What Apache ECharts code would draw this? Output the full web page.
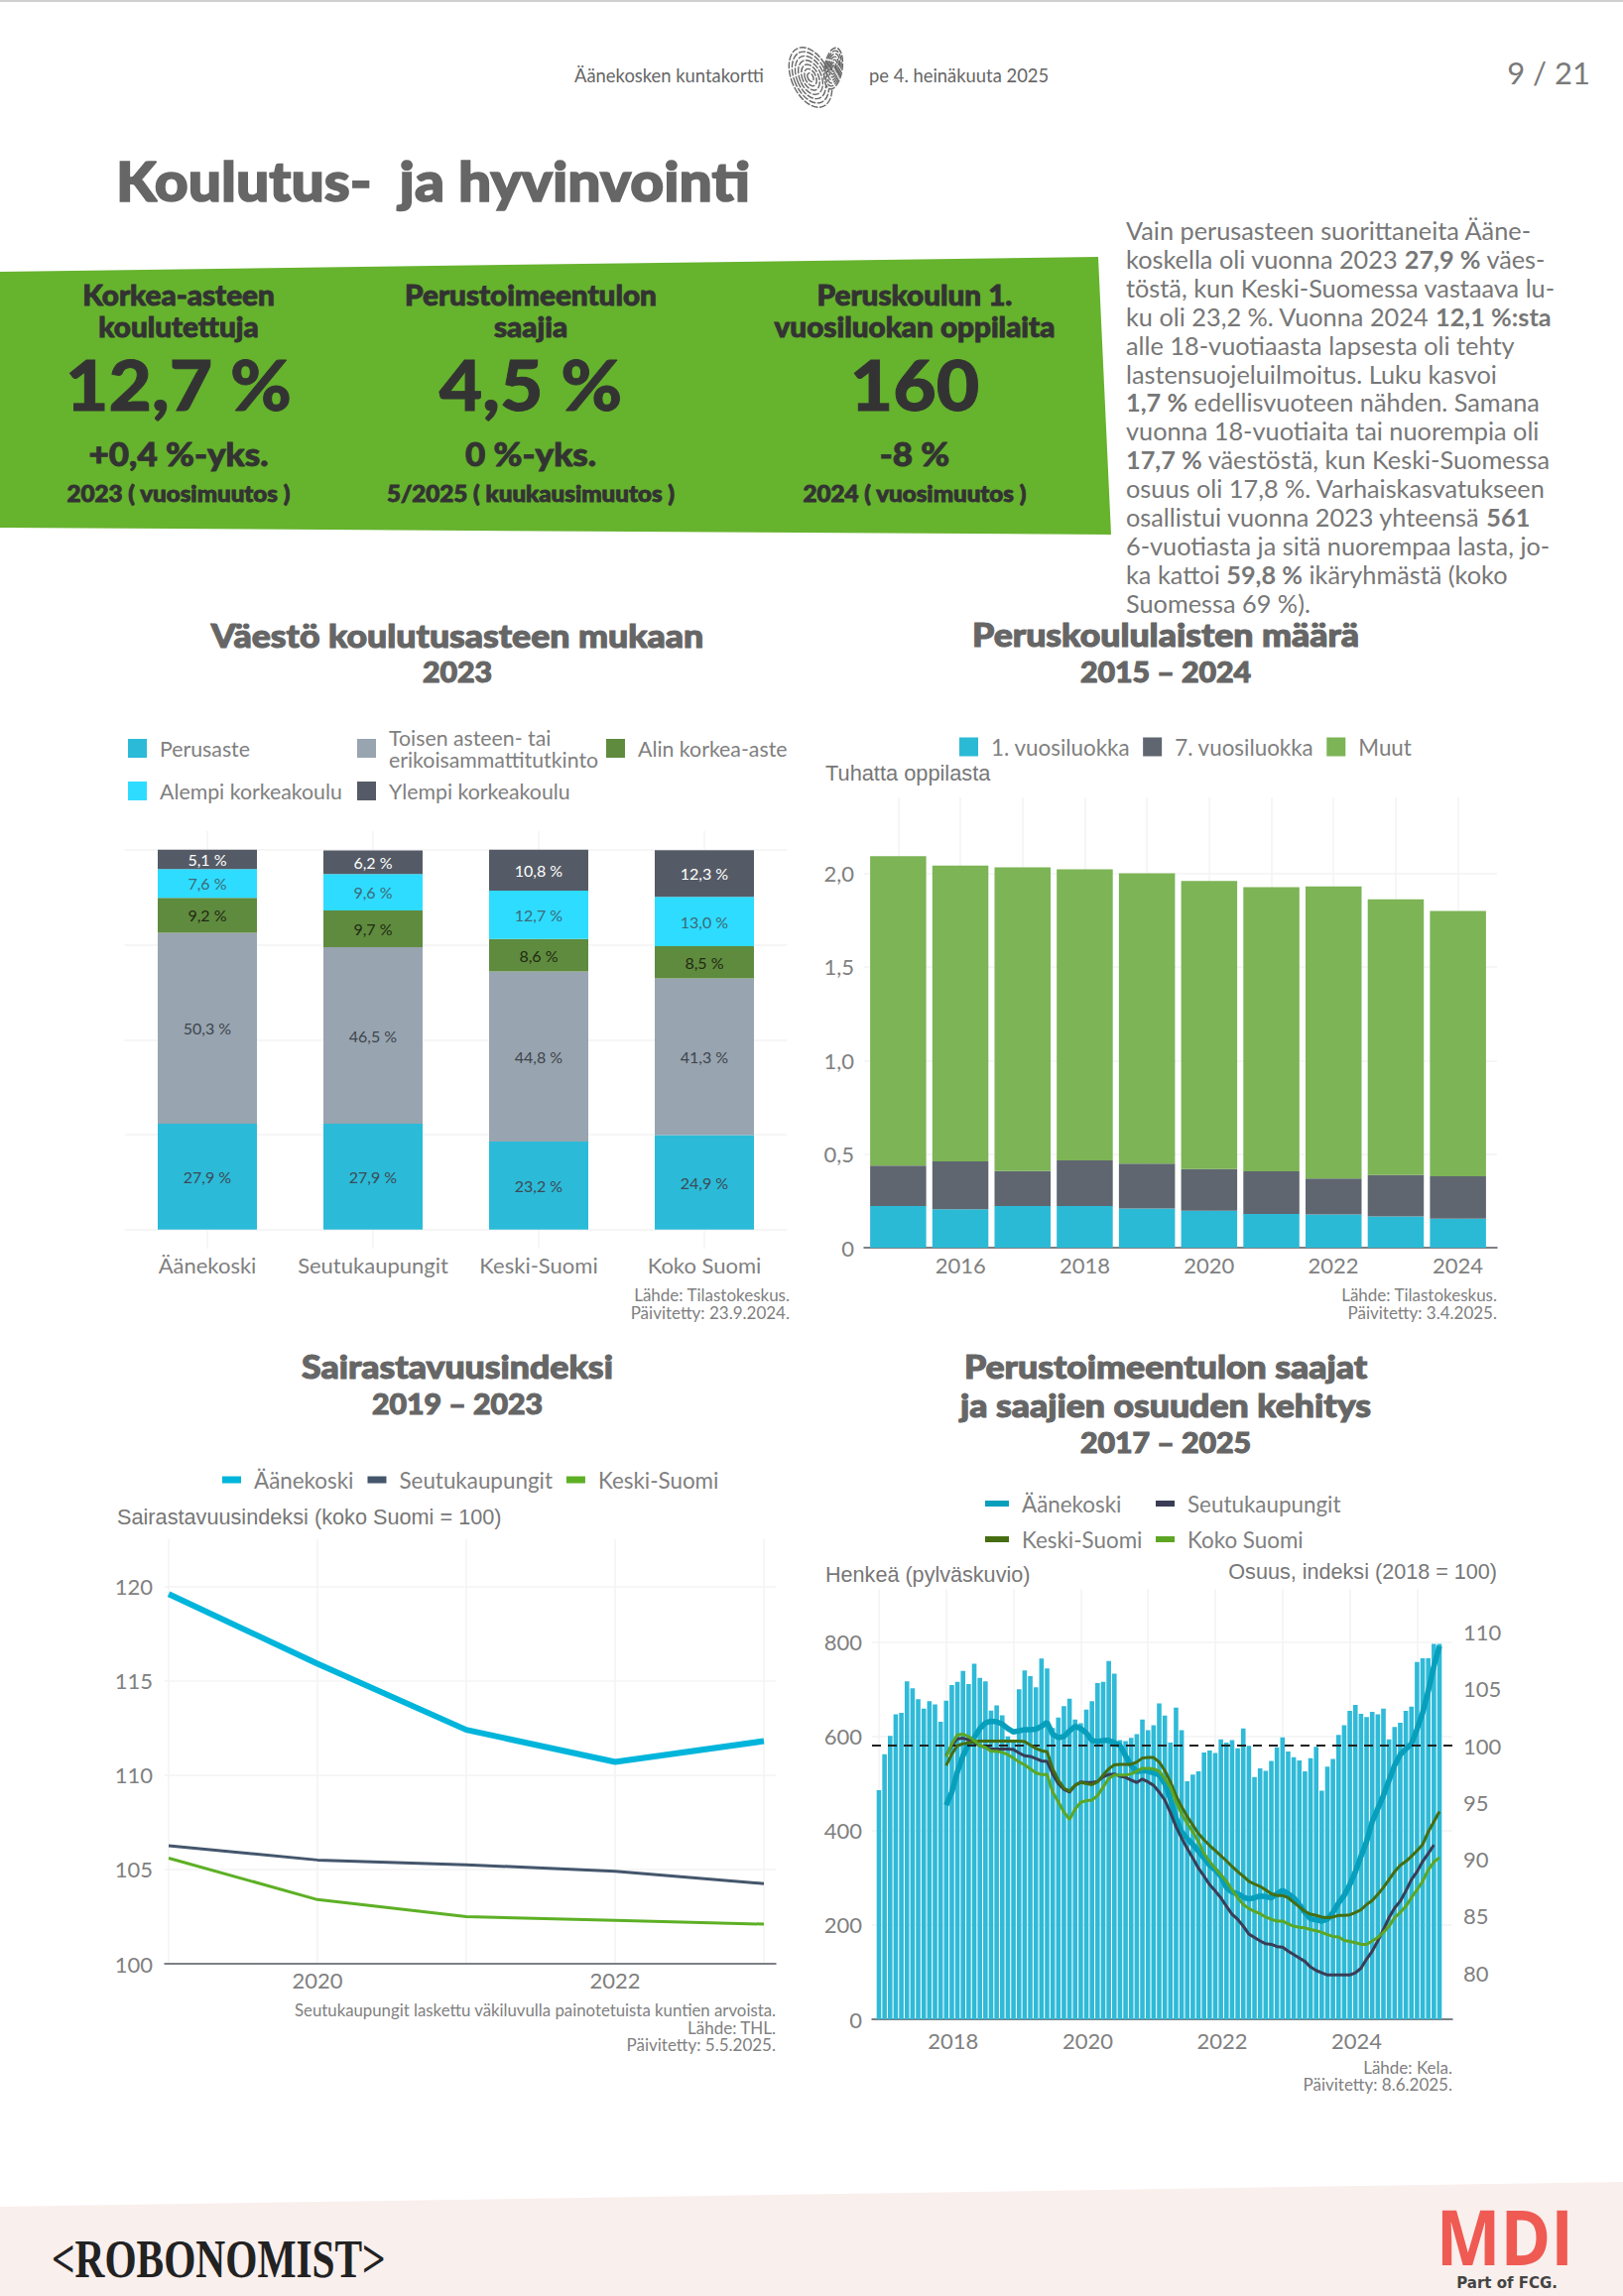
<!DOCTYPE html>
<html lang="fi"><head><meta charset="utf-8"><title>Koulutus- ja hyvinvointi</title>
<script src="https://cdn.jsdelivr.net/npm/echarts@6/dist/echarts.min.js"></script>
<style>html,body{margin:0;padding:0;background:#fff}#c{width:1636px;height:2315px}</style>
</head><body><div id="c"></div>
<script>
// ---- Chart 1: education
const eduCategories = ['Äänekoski','Seutukaupungit','Keski-Suomi','Koko Suomi'];
const eduPerusaste = [27.9,27.9,23.2,24.9];
const eduToinen = [50.3,46.5,44.8,41.3];
const eduAlin = [9.2,9.7,8.6,8.5];
const eduAlempi = [7.6,9.6,12.7,13.0];
const eduYlempi = [5.1,6.2,10.8,12.3];
// ---- Chart 2: pupils
const pupilYears = ['2015','2016','2017','2018','2019','2020','2021','2022','2023','2024'];
const pupilGrade1 = [0.223,0.206,0.223,0.223,0.209,0.197,0.180,0.177,0.167,0.155];
const pupilGrade7 = [0.216,0.255,0.187,0.243,0.240,0.223,0.228,0.192,0.221,0.226];
const pupilOther = [1.653,1.580,1.622,1.556,1.551,1.539,1.519,1.561,1.474,1.418];
// ---- Chart 3: morbidity
const morbYears = [2019,2020,2021,2022,2023];
const morbAanekoski = [119.6,115.9,112.4,110.7,111.8];
const morbSeutu = [106.25,105.5,105.25,104.9,104.25];
const morbKeski = [105.6,103.4,102.5,102.3,102.1];
// ---- Chart 4: income support, monthly from Jan 2017 (bars), Jan 2018 (index lines)
const benefitBars = [486,562,601,647,650,717,702,679,659,675,668,631,
676,709,716,739,711,754,724,717,655,666,645,600,
593,700,740,728,704,765,744,618,640,664,680,636,
628,657,675,713,716,760,733,592,590,597,605,636,
613,624,670,644,587,661,613,505,519,526,566,570,
565,594,587,592,575,617,580,514,532,527,548,577,
598,568,556,549,526,554,578,485,536,552,603,624,
654,667,648,641,652,647,659,594,620,629,654,663,
758,766,766,796,796];
const shareAanekoski = [94.75,95.9,97.7,99.1,100.1,100.7,101.5,102,102.15,102.1,101.9,101.5,
101.2,101.3,101.4,101.4,101.45,101.7,102.05,101,100.7,100.8,101.3,101.7,
101.5,101.1,100.45,100.35,100.45,100.45,100.25,100,99.1,98.25,97.7,97.8,
97.75,97.6,97.4,96.65,95.3,93.6,92.4,91.8,91.3,90.7,90.1,89.45,
89.05,88.5,87.5,87.1,86.95,86.65,86.5,86.6,86.75,86.7,86.6,86.95,
87.25,86.95,86.6,86,85.3,84.75,84.65,84.55,84.7,85.3,86.15,86.8,
87.75,88.9,90.25,91.55,93.3,94.45,95.6,96.95,98.25,99.2,99.7,100.15,
101.45,102.9,104.8,107,108.75];
const shareSeutu = [99.1,100,100.6,100.65,100.5,100.25,100,99.85,99.7,99.7,99.7,99.7,
99.65,99.35,99.1,99.05,98.85,98.65,98.6,97.5,96.65,96.15,95.9,96.5,
96.8,96.75,96.75,96.85,97.25,97.45,97.5,97.3,97.2,96.95,96.75,97.05,
96.8,96.5,95.9,95.2,94.1,92.85,91.85,90.95,90.1,89.2,88.5,87.75,
87.2,86.6,85.85,85.15,84.7,84.1,83.4,83.1,82.8,82.55,82.5,82.3,
82.25,81.9,81.6,81.3,81,80.5,80.2,80,79.8,79.8,79.8,79.8,
79.8,80,80.4,81.2,81.9,82.8,83.8,84.85,85.7,86.3,87.2,88.2,
88.9,89.8,90.5,91.25];
const shareKeski = [98.25,99.25,100,100.15,100.25,100.35,100.4,100.4,100.4,100.4,100.4,100.4,
100.4,100.4,100.35,100.05,99.75,99.55,99.45,97.95,96.95,96.25,96,96.5,
96.75,96.65,96.55,96.8,97.4,97.95,98.3,98.35,98.35,98.35,98.55,98.9,
98.95,98.95,98.55,97.8,96.8,95.6,94.6,93.75,93,92.25,91.7,91.2,
90.75,90.3,89.85,89.35,88.9,88.5,88.05,87.8,87.6,87.3,86.95,86.8,
86.8,86.6,86.2,85.8,85.4,85.15,85.05,84.9,84.85,84.9,85.05,85.05,
85.1,85.3,85.55,86,86.35,86.9,87.5,88.2,88.9,89.45,89.8,90.25,
90.75,91.3,92.4,93.3,94.2];
const shareKoko = [99,100.15,100.95,101,100.8,100.45,100,99.85,99.5,99.5,99.4,99.2,
98.9,98.55,98.3,97.95,97.6,97.45,97.45,95.9,95.05,94.15,93.5,94.4,
95,95.15,95.2,95.6,96.35,97.1,97.4,97.4,97.4,97.5,97.75,98,
98,97.95,97.75,97.1,96.35,95.05,94,93.15,92.4,91.55,90.5,89.8,
89.2,88.6,88.05,87.3,86.6,86,85.65,85.4,85.2,84.9,84.7,84.55,
84.55,84.3,84.1,84,83.95,83.8,83.7,83.55,83.35,83.2,83.15,82.85,
82.75,82.65,82.5,82.5,82.8,83.1,83.55,84.1,84.85,85.3,85.85,86.6,
87.3,88.05,89.05,89.75,90.15];
// ---- Texts
const kpiTexts = [
 {x:180,head:['Korkea-asteen','koulutettuja'],big:'12,7 %',chg:'+0,4 %-yks.',foot:'2023 ( vuosimuutos )'},
 {x:535,head:['Perustoimeentulon','saajia'],big:'4,5 %',chg:'0 %-yks.',foot:'5/2025 ( kuukausimuutos )'},
 {x:922,head:['Peruskoulun 1.','vuosiluokan oppilaita'],big:'160',chg:'-8 %',foot:'2024 ( vuosimuutos )'}];
const paragraph = ['Vain perusasteen suorittaneita Ääne-','koskella oli vuonna 2023 **27,9 %** väes-','töstä, kun Keski-Suomessa vastaava lu-','ku oli 23,2 %. Vuonna 2024 **12,1 %:sta**','alle 18-vuotiaasta lapsesta oli tehty','lastensuojeluilmoitus. Luku kasvoi','**1,7 %** edellisvuoteen nähden. Samana','vuonna 18-vuotiaita tai nuorempia oli','**17,7 %** väestöstä, kun Keski-Suomessa','osuus oli 17,8 %. Varhaiskasvatukseen','osallistui vuonna 2023 yhteensä **561**','6-vuotiasta ja sitä nuorempaa lasta, jo-','ka kattoi **59,8 %** ikäryhmästä (koko','Suomessa 69 %).'];

const BODY='Lato, sans-serif', AR='"Liberation Sans", Arial, sans-serif';
const GRAY='#808080', GRID='#f3f3f3', AXIS='#555a60';
const fi1=v=>v===0?'0':v.toFixed(1).replace('.',',');
const T=(x,y,text,size,o={})=>({type:'text',x,y,silent:true,z:o.z||20,scaleX:o.scaleX||1,scaleY:o.scaleY||1,style:{text,fontSize:size,fontFamily:o.font||BODY,fontWeight:o.weight||400,fill:o.color||GRAY,stroke:o.stroke?(o.color||GRAY):null,lineWidth:o.stroke||0,textAlign:o.align||'left',textVerticalAlign:'middle',rich:o.rich}});
const H=(x,y,text,size)=>T(x,y,text,size,{weight:900,color:'#666666',align:'center',scaleX:1.08,stroke:1.1});
const K=(x,y,text,size,sx)=>T(x,y,text,size,{weight:900,color:'#333333',align:'center',scaleX:sx,stroke:0.9});
const graphics=[
 {type:'rect',silent:true,z:1,shape:{x:0,y:0,width:1636,height:2},style:{fill:'#cfcfcf'}},
 {type:'polygon',silent:true,z:1,shape:{points:[[0,274],[1107,259],[1120,539],[0,532]]},style:{fill:'#66b32e'}},
 {type:'polygon',silent:true,z:1,shape:{points:[[0,2225],[1636,2200],[1636,2315],[0,2315]]},style:{fill:'#f9efed'}},
 T(579,76,'Äänekosken kuntakortti',18.4,{color:'#666'}),
 T(876,76,'pe 4. heinäkuuta 2025',18.4,{color:'#666'}),
 T(1603,73,'9 / 21',31,{align:'right',color:'#7a7a7a'}),
 T(117,181,'Koulutus-  ja hyvinvointi',56,{weight:900,color:'#666666',scaleX:1.05,stroke:1.6}),
 H(461,640,'Väestö koulutusasteen mukaan',33),H(461,677,'2023',28),
 H(1175,639,'Peruskoululaisten määrä',33),H(1175,677,'2015 – 2024',28),
 H(461,1377,'Sairastavuusindeksi',33),H(461,1415,'2019 – 2023',28),
 H(1175,1377,'Perustoimeentulon saajat',33),H(1175,1416,'ja saajien osuuden kehitys',33),H(1175,1454,'2017 – 2025',28),
 T(832,779,'Tuhatta oppilasta',21.8,{font:AR,color:'#777'}),
 T(118,1529,'Sairastavuusindeksi (koko Suomi = 100)',21.7,{font:AR,color:'#777'}),
 T(832,1587,'Henkeä (pylväskuvio)',21.6,{font:AR,color:'#777'}),
 T(1509,1584,'Osuus, indeksi (2018 = 100)',21.6,{font:AR,color:'#777',align:'right'}),
 T(796,1305,'Lähde: Tilastokeskus.',17,{align:'right'}),T(796,1323,'Päivitetty: 23.9.2024.',17,{align:'right'}),
 T(1509,1305,'Lähde: Tilastokeskus.',17,{align:'right'}),T(1509,1323,'Päivitetty: 3.4.2025.',17,{align:'right'}),
 T(782,2026,'Seutukaupungit laskettu väkiluvulla painotetuista kuntien arvoista.',16.8,{align:'right'}),T(782,2044,'Lähde: THL.',17,{align:'right'}),T(782,2061,'Päivitetty: 5.5.2025.',17,{align:'right'}),
 T(1464,2084,'Lähde: Kela.',17,{align:'right'}),T(1464,2101,'Päivitetty: 8.6.2025.',17,{align:'right'}),
 T(52,2278,'<ROBONOMIST>',44,{font:'"Liberation Serif", serif',weight:700,color:'#222',scaleX:.94,scaleY:1.25}),
 T(1586,2254,'MDI',78,{font:'"Open Sans", sans-serif',weight:700,color:'#ef5a52',align:'right',scaleX:.88}),
 T(1570,2302,'Part of FCG.',15,{font:'"DejaVu Sans", sans-serif',weight:700,color:'#444',align:'right'})
];
// fingerprint heart, drawn as concentric rings
[[817,78,19,32,.42],[840,69,9,21,-.15]].forEach(([cx,cy,rx,ry,r])=>{
  for(let i=0;i<7;i++){const f=1-i/7;
    graphics.push({type:'ellipse',silent:true,z:5,x:cx,y:cy,rotation:r,shape:{cx:0,cy:0,rx:rx*f,ry:ry*f},style:{fill:i===0?'#fff':null,stroke:'#666',lineWidth:1.4,lineDash:[7,1.5]}});
  }
});
kpiTexts.forEach(k=>{
  graphics.push(K(k.x,297,k.head[0],28,1.06),K(k.x,329,k.head[1],28,1.06),K(k.x,386,k.big,70,1.07),K(k.x,457,k.chg,33,1.06),K(k.x,497,k.foot,23,1.05));
});
paragraph.forEach((line,i)=>{
  const text=line.split('**').map((s,j)=>s===''?'':(j%2?`{b|${s}}`:`{n|${s}}`)).join('');
  const rs={fontSize:25.3,fontFamily:BODY};
  graphics.push(T(1135,232+i*28.9,text,25.3,{color:'#777',rich:{n:{...rs,color:'#777'},b:{...rs,fontWeight:700,color:'#666'}}}));
});

const lgText={color:GRAY,fontSize:21.3,fontFamily:BODY,lineHeight:22,padding:[0,0,0,8]};
const lgTextWide={...lgText,fontSize:22.4};
const L=(name,color,left,cy,o={})=>({left,top:cy-11-(o.shift||0),padding:0,icon:'rect',itemWidth:o.w||19,itemHeight:o.h||19,itemGap:o.gap||14,selectedMode:false,textStyle:o.wide?lgTextWide:lgText,data:[{name,itemStyle:{color},lineStyle:{opacity:0}}]});
const C={per:'#2bbbd8',toi:'#98a4b0',ali:'#5f8b3e',ale:'#2edcff',yle:'#555b66',g1:'#2bbad6',g7:'#5f6670',mu:'#7cb456',
  m1:'#00b5db',m2:'#44566c',m3:'#5db025',b1:'#079fbc',b2:'#3a3d55',b3:'#466d10',b4:'#5da624',bar:'#2fbad8'};
const N={tt:'Toisen asteen- tai\nerikoisammattitutkinto'};
const legends=[
 L('Perusaste',C.per,129,754.5),L(N.tt,C.toi,360,754.5,{shift:11}),L('Alin korkea-aste',C.ali,611,754.5),
 L('Alempi korkeakoulu',C.ale,129,797.5),L('Ylempi korkeakoulu',C.yle,360,797.5),
 {left:967,top:742,padding:0,icon:'rect',itemWidth:19,itemHeight:19,itemGap:13,selectedMode:false,textStyle:lgTextWide,data:['1. vuosiluokka','7. vuosiluokka','Muut']},
 {left:224,top:1481,padding:0,icon:'rect',itemWidth:19,itemHeight:7,itemGap:14,selectedMode:false,textStyle:lgTextWide,data:[{name:'Äänekoski',itemStyle:{color:C.m1}},{name:'Seutukaupungit',itemStyle:{color:C.m2}},{name:'Keski-Suomi',itemStyle:{color:C.m3}}]},
 L('Äänekoski',C.b1,993,1516,{w:24,h:6,wide:1}),L('Seutukaupungit',C.b2,1165,1516,{h:6,wide:1}),
 L('Keski-Suomi',C.b3,993,1552,{w:24,h:6,wide:1}),L('Koko Suomi',C.b4,1165,1552,{h:6,wide:1})
];
const lab={color:GRAY,fontSize:22,fontFamily:BODY};
const grids=[{left:125.5,top:838,width:668,height:421},{left:871,top:804,width:638,height:454},{left:166,top:1552,width:616,height:428},{left:879,top:1602,width:585,height:434},{left:874,top:804,width:627,height:454}];
const years=(keep)=>v=>keep.includes(v)?String(v):'';
const vx=(gridIndex,min,max,splitNumber,keep,extra={})=>({type:'value',gridIndex,min,max,splitNumber,axisTick:{show:false},
  axisLine:{show:true,onZero:false,lineStyle:{color:AXIS,width:1.5}},
  axisLabel:{...lab,margin:extra.margin||8,hideOverlap:false,showMinLabel:false,showMaxLabel:false,formatter:years(keep),padding:extra.padding||0},
  splitLine:{show:true,showMinLine:false,showMaxLine:false,lineStyle:{color:GRID,width:1.5}}});
const vy=(gridIndex,min,max,interval,fmt,margin)=>({type:'value',gridIndex,min,max,interval,axisLine:{show:false},axisTick:{show:false},
  axisLabel:{...lab,margin,showMaxLabel:false,formatter:fmt},splitLine:{show:true,showMaxLine:false,lineStyle:{color:GRID,width:1.5}}});
const xAxes=[
 {type:'category',gridIndex:0,data:eduCategories,axisLine:{show:false},axisTick:{show:false},axisLabel:{...lab,margin:5,interval:0},splitLine:{show:true,alignWithLabel:true,interval:0,lineStyle:{color:GRID,width:1.5}}},
 vx(1,2014.449,2024.632,10,[2016,2018,2020,2022,2024],{margin:6}),
 vx(2,2018.973,2023.08,4,[2020,2022],{margin:5}),
 vx(3,2016.897,2025.525,8,[2018,2020,2022,2024],{margin:10,padding:[0,0,0,14]}),
 {type:'category',gridIndex:4,data:pupilYears,show:false}
];
const yAxes=[
 {type:'value',gridIndex:0,min:-5,max:105,interval:5,axisLine:{show:false},axisTick:{show:false},axisLabel:{show:false},splitLine:{show:true,lineStyle:{width:1.5,color:['rgba(0,0,0,0)',GRID,'rgba(0,0,0,0)','rgba(0,0,0,0)','rgba(0,0,0,0)']}}},
 vy(1,0,2.406,0.5,fi1,10),
 vy(2,100,122.5,5,v=>String(v),12),
 vy(3,0,913,200,v=>String(v),10),
 {type:'value',gridIndex:3,position:'right',min:75.9,max:113.8,splitNumber:8,axisLine:{show:false},axisTick:{show:false},axisLabel:{...lab,margin:11,showMinLabel:false,showMaxLabel:false},splitLine:{show:false}},
 {type:'value',gridIndex:4,min:0,max:2.406,show:false}
];
const eduS=(name,data,color,lc)=>({type:'bar',name,data,xAxisIndex:0,yAxisIndex:0,stack:'e',barWidth:100,itemStyle:{color},label:{show:true,position:'inside',color:lc,fontSize:16,fontFamily:BODY,formatter:p=>p.value.toFixed(1).replace('.',',')+' %'}});
const puS=(name,data,color)=>({type:'bar',name,xAxisIndex:4,yAxisIndex:5,stack:'p',barWidth:56.5,itemStyle:{color},data});
const moS=(name,data,color,w)=>({type:'line',name,xAxisIndex:2,yAxisIndex:2,color,showSymbol:false,lineStyle:{color,width:w},data:data.map((v,i)=>[morbYears[i],v])});
const shS=(name,data,color,w,extra={})=>({type:'line',name,xAxisIndex:3,yAxisIndex:4,color,showSymbol:false,lineStyle:{color,width:w},data:data.map((v,i)=>[2018+i/12,v]),...extra});
const series=[
 eduS('Perusaste',eduPerusaste,C.per,'#3d4a55'),eduS(N.tt,eduToinen,C.toi,'#3d444c'),eduS('Alin korkea-aste',eduAlin,C.ali,'#1f2a14'),eduS('Alempi korkeakoulu',eduAlempi,C.ale,'#3d6a78'),eduS('Ylempi korkeakoulu',eduYlempi,C.yle,'#ffffff'),
 puS('1. vuosiluokka',pupilGrade1,C.g1),puS('7. vuosiluokka',pupilGrade7,C.g7),puS('Muut',pupilOther,C.mu),
 moS('Äänekoski',morbAanekoski,C.m1,6),moS('Seutukaupungit',morbSeutu,C.m2,3),moS('Keski-Suomi',morbKeski,C.m3,3),
 {type:'bar',name:'Henkeä',xAxisIndex:3,yAxisIndex:3,barWidth:4.6,itemStyle:{color:C.bar},data:benefitBars.map((v,i)=>[2017+i/12,v])},
 shS('Äänekoski',shareAanekoski,C.b1,5.5,{z:3}),shS('Seutukaupungit',shareSeutu,C.b2,3,{z:4}),shS('Keski-Suomi',shareKeski,C.b3,3,{z:5}),
 shS('Koko Suomi',shareKoko,C.b4,3,{z:5,markLine:{silent:true,symbol:'none',animation:false,label:{show:false},lineStyle:{color:'#222',type:[9,7],width:2},data:[{yAxis:100}]}})
];
const chart=echarts.init(document.getElementById('c'),null,{renderer:'svg',width:1636,height:2315});
chart.setOption({animation:false,backgroundColor:'#fff',textStyle:{fontFamily:BODY},tooltip:{show:false},legend:legends,grid:grids,xAxis:xAxes,yAxis:yAxes,series,graphic:{elements:graphics}});
</script></body></html>
